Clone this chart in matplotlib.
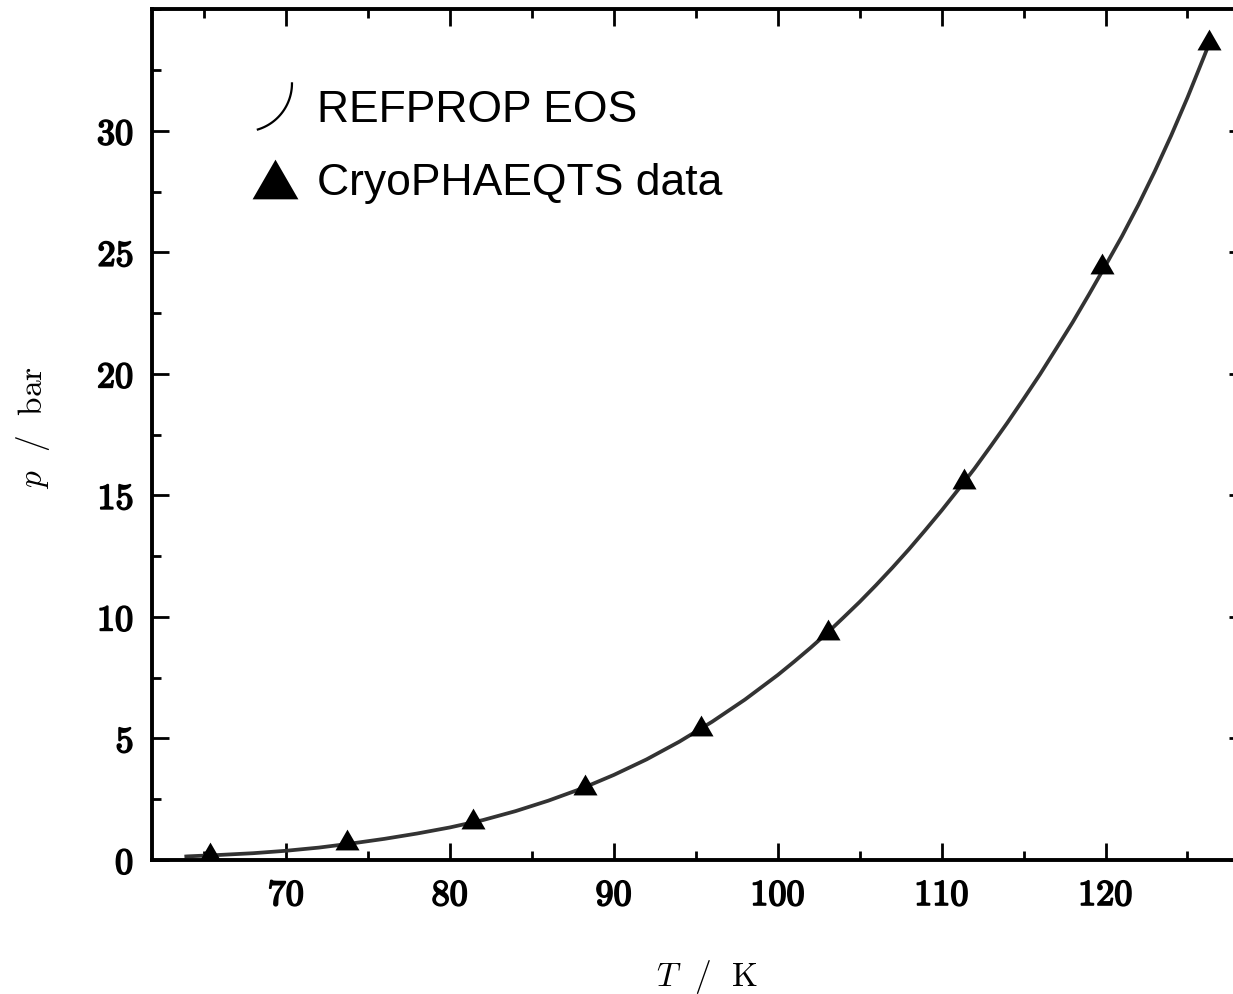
import numpy as np
import matplotlib
matplotlib.use("Agg")
import matplotlib.pyplot as plt
import matplotlib.patheffects as pe
from matplotlib.lines import Line2D
from matplotlib.legend_handler import HandlerBase
from matplotlib.ticker import MultipleLocator, FuncFormatter

plt.rcParams['mathtext.fontset'] = 'cm'

# ---------------- data ----------------
eos_T = [63.8, 64, 66, 68, 70, 72, 74, 76, 78, 80, 82, 84, 86, 88, 90, 92, 94, 96,
         98, 100, 101, 102, 103, 104, 105, 106, 107, 108, 109, 110, 111, 112, 113,
         114, 115, 116, 117, 118, 119, 120, 121, 122, 123, 124, 125, 126, 126.33]
eos_p = [0.14, 0.15, 0.21, 0.28, 0.38, 0.51, 0.68, 0.87, 1.09, 1.34, 1.64, 2.01, 2.44,
         2.93, 3.50, 4.14, 4.87, 5.69, 6.60, 7.61, 8.16, 8.73, 9.33, 9.97, 10.62,
         11.31, 12.03, 12.78, 13.57, 14.38, 15.23, 16.10, 17.03, 17.98, 18.97, 19.98,
         21.05, 22.13, 23.28, 24.46, 25.66, 26.95, 28.33, 29.80, 31.37, 33.04, 33.60]

cryo_T = [65.36, 73.70, 81.43, 88.24, 95.32, 103.07, 111.35, 119.77, 126.33]
cryo_p = [0.18, 0.68, 1.56, 2.98, 5.40, 9.34, 15.55, 24.40, 33.60]

x_ticks = [70, 80, 90, 100, 110, 120]
y_ticks = [0, 5, 10, 15, 20, 25, 30]

label_eos = "REFPROP EOS"
label_cryo = "CryoPHAEQTS data"
xlabel = r'$T\ \ /\ \ \mathrm{K}$'
ylabel = r'$p\ \ /\ \ \mathrm{bar}$'

# ---------------- figure ----------------
W, H = 1233, 994
fig = plt.figure(figsize=(W / 100, H / 100), dpi=100)
ax_l, ax_r, ax_b, ax_t = 152.3, 1246, 860, 9.3
ax = fig.add_axes([ax_l / W, 1 - ax_b / H, (ax_r - ax_l) / W, (ax_b - ax_t) / H])

tri_centroid = [(-1, -0.577), (1, -0.577), (0, 1.155)]
tri_box = [(-1, -0.866), (1, -0.866), (0, 0.866)]

ax.plot(eos_T, eos_p, color='#333333', lw=2.7, solid_capstyle='butt',
        solid_joinstyle='round', zorder=2)
ax.plot(cryo_T, cryo_p, ls='none', marker=tri_centroid, ms=20, color='black',
        markeredgewidth=0, zorder=3)

ax.set_xlim(61.84, 128.57)
ax.set_ylim(0, 35)
ax.set_xticks(x_ticks)
ax.set_yticks(y_ticks)
ax.xaxis.set_minor_locator(MultipleLocator(5))
ax.yaxis.set_minor_locator(MultipleLocator(2.5))
fmt = FuncFormatter(lambda v, pos: r'$\mathbf{%d}$' % v)
ax.xaxis.set_major_formatter(fmt)
ax.yaxis.set_major_formatter(fmt)

ax.tick_params(which='both', direction='in', top=True, right=True, width=2, color='black')
ax.tick_params(which='major', length=12.5, labelsize=26)
ax.tick_params(which='minor', length=6.5)
ax.tick_params(axis='x', which='major', pad=13)
ax.tick_params(axis='y', which='major', pad=13.4)
for s in ax.spines.values():
    s.set_linewidth(2.8)
    s.set_color('black')

bold_fx = [pe.withStroke(linewidth=1.3, foreground='black')]
for lab in ax.get_xticklabels() + ax.get_yticklabels():
    lab.set_path_effects(bold_fx)

ax.set_xlabel(xlabel, fontsize=24)
ax.xaxis.set_label_coords((707 - ax_l) / (ax_r - ax_l), (ax_b - 958) / (ax_b - ax_t))
ax.set_ylabel(ylabel, fontsize=24)
ax.yaxis.set_label_coords((52 - ax_l) / (ax_r - ax_l), 0.5 + (434.5 - 427) / (ax_b - ax_t))


# ---------------- legend ----------------
class HandlerArc(HandlerBase):
    def create_artists(self, legend, orig_handle, xdescent, ydescent,
                       width, height, fontsize, trans):
        x0 = -xdescent + width / 2
        y0 = -ydescent + height / 2
        r = 34.7 / 32 * fontsize
        cx = x0 + (11.9 / 32) * fontsize - r
        cy = y0 + (16.6 / 32) * fontsize
        th = np.radians(np.linspace(0, -73, 40))
        ln = Line2D(cx + r * np.cos(th), cy + r * np.sin(th), color='black', lw=1.6,
                    transform=trans)
        return [ln]


h_eos = Line2D([], [], color='black')
h_cryo = Line2D([], [], ls='none', marker=tri_box, ms=33, color='black', markeredgewidth=0)
ax.legend([h_eos, h_cryo], [label_eos, label_cryo],
          handler_map={h_eos: HandlerArc()},
          loc='upper left',
          bbox_to_anchor=((253 - ax_l) / (ax_r - ax_l), (ax_b - 90) / (ax_b - ax_t)),
          frameon=False, borderpad=0, borderaxespad=0,
          handlelength=1.01, handletextpad=0.44, labelspacing=0.72, numpoints=1,
          prop={'family': 'Liberation Sans', 'size': 32})

fig.savefig('out.png', dpi=100)
